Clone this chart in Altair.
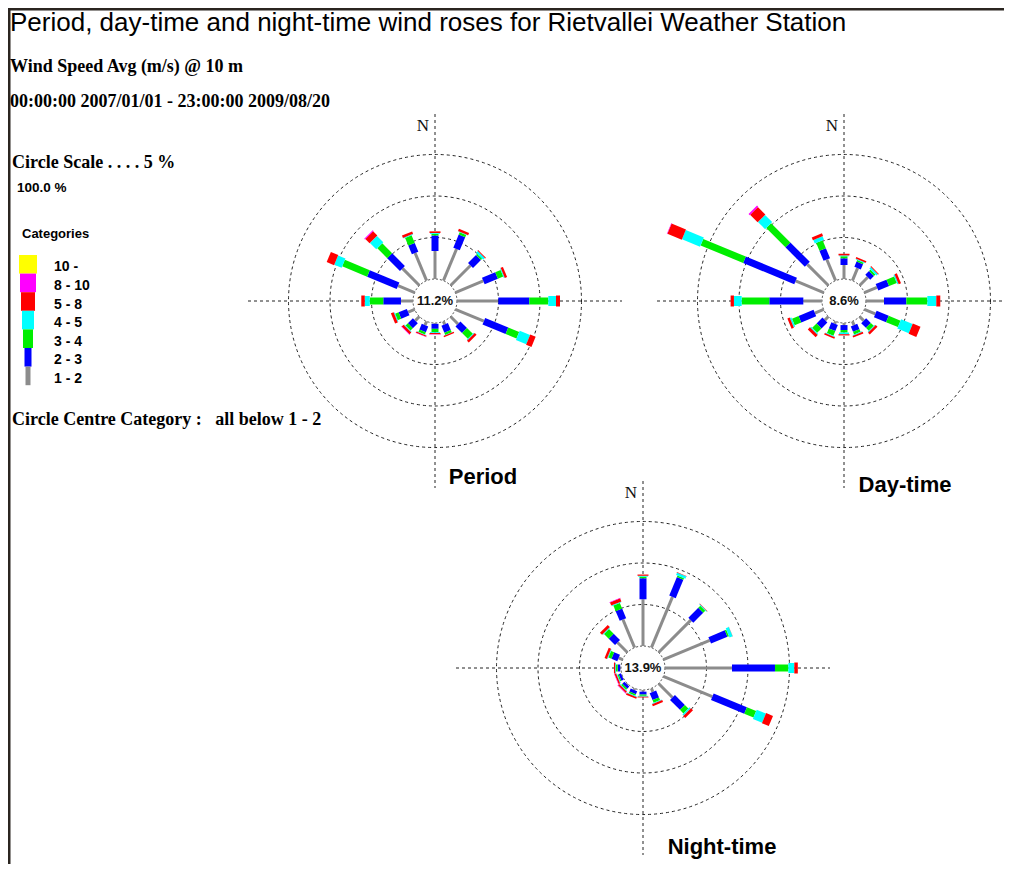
import altair as alt
import pandas as pd

# ---------------- data ----------------
DIRECTIONS = ["N", "NNE", "NE", "ENE", "E", "ESE", "SE", "SSE",
              "S", "SSW", "SW", "WSW", "W", "WNW", "NW", "NNW"]
CATEGORIES = ["1 - 2", "2 - 3", "3 - 4", "4 - 5", "5 - 8", "8 - 10", "10 -"]
ROSES = ["Period", "Day-time", "Night-time"]
CALMS = [11.2, 8.6, 13.9]          # circle centre (calm) percentages

# frequency (%) per direction, one list per speed category
period_1_2 = [3.37, 4.13, 3.40, 3.65, 4.98, 3.72, 1.26, 0.40, 0.10, 0.50, 0.70, 0.85, 1.45, 2.17, 2.90, 3.61]
period_2_3 = [1.87, 1.71, 1.36, 1.73, 3.73, 3.01, 1.12, 0.90, 0.60, 0.75, 0.85, 1.08, 2.13, 3.86, 2.17, 1.14]
period_3_4 = [0.20, 0.30, 0.20, 0.70, 2.29, 1.42, 0.99, 0.30, 0.40, 0.30, 0.40, 0.45, 1.63, 3.25, 1.69, 1.00]
period_4_5 = [0.10, 0.05, 0.30, 0.10, 0.93, 1.35, 0.10, 0.05, 0.10, 0.05, 0.10, 0.10, 0.60, 0.96, 1.08, 0.10]
period_5_8 = [0.20, 0.30, 0.10, 0.30, 0.48, 0.70, 0.30, 0.15, 0.15, 0.15, 0.30, 0.35, 0.42, 0.96, 0.72, 0.30]
period_8_10 = [0.00, 0.00, 0.00, 0.00, 0.00, 0.00, 0.00, 0.00, 0.04, 0.04, 0.05, 0.00, 0.00, 0.00, 0.12, 0.00]
period_10_up = [0.00, 0.00, 0.00, 0.00, 0.00, 0.00, 0.00, 0.00, 0.00, 0.00, 0.00, 0.00, 0.00, 0.00, 0.00, 0.00]

day_1_2 = [1.69, 1.63, 1.40, 1.65, 2.17, 1.43, 0.70, 0.50, 0.25, 0.30, 0.60, 1.15, 2.25, 3.66, 3.60, 2.76]
day_2_3 = [0.80, 0.69, 0.63, 1.41, 2.69, 1.58, 0.80, 0.70, 0.60, 0.80, 1.00, 1.95, 4.10, 6.67, 3.31, 1.31]
day_3_4 = [0.25, 0.20, 0.25, 1.00, 2.53, 1.54, 0.50, 0.35, 0.30, 0.60, 0.75, 0.86, 3.33, 5.55, 3.28, 1.02]
day_4_5 = [0.10, 0.10, 0.25, 0.15, 1.08, 1.50, 0.10, 0.10, 0.20, 0.10, 0.15, 0.20, 0.93, 2.35, 1.22, 0.45]
day_5_8 = [0.20, 0.20, 0.10, 0.30, 0.48, 1.00, 0.30, 0.20, 0.15, 0.20, 0.35, 0.30, 0.40, 1.88, 1.28, 0.36]
day_8_10 = [0.00, 0.00, 0.00, 0.00, 0.00, 0.00, 0.00, 0.00, 0.00, 0.00, 0.00, 0.00, 0.00, 0.05, 0.20, 0.00]
day_10_up = [0.00, 0.00, 0.00, 0.00, 0.00, 0.00, 0.00, 0.00, 0.00, 0.00, 0.00, 0.00, 0.00, 0.00, 0.00, 0.00]

night_1_2 = [5.63, 6.63, 5.50, 6.05, 8.07, 6.39, 2.37, 0.46, 0.20, 0.20, 0.10, 0.05, 0.10, 0.53, 1.69, 3.67]
night_2_3 = [2.53, 2.41, 1.69, 2.14, 5.18, 4.34, 1.69, 0.90, 0.35, 0.40, 0.35, 0.30, 0.30, 0.76, 1.08, 1.27]
night_3_4 = [0.20, 0.20, 0.35, 0.20, 1.61, 1.20, 0.60, 0.35, 0.15, 0.20, 0.20, 0.15, 0.20, 0.40, 0.80, 0.72]
night_4_5 = [0.10, 0.30, 0.10, 0.40, 0.72, 1.20, 0.20, 0.10, 0.10, 0.10, 0.10, 0.10, 0.10, 0.10, 0.10, 0.10]
night_5_8 = [0.15, 0.05, 0.05, 0.02, 0.42, 0.90, 0.35, 0.25, 0.10, 0.20, 0.20, 0.20, 0.15, 0.30, 0.35, 0.40]
night_8_10 = [0.00, 0.00, 0.00, 0.00, 0.00, 0.00, 0.00, 0.00, 0.00, 0.00, 0.05, 0.05, 0.00, 0.00, 0.00, 0.05]
night_10_up = [0.00, 0.00, 0.00, 0.00, 0.00, 0.00, 0.00, 0.00, 0.00, 0.00, 0.00, 0.00, 0.00, 0.00, 0.00, 0.00]

TITLE = "Period, day-time and night-time wind roses for Rietvallei Weather Station"
SUBTITLE_1 = "Wind Speed Avg (m/s) @ 10 m"
SUBTITLE_2 = "00:00:00 2007/01/01 - 23:00:00 2009/08/20"
SCALE_TEXT = "Circle Scale . . . . 5 %"
TOTAL_TEXT = "100.0 %"
LEGEND_TITLE = "Categories"
CENTRE_TEXT = "Circle Centre Category :\u00a0\u00a0\u00a0all below 1 - 2"

# ---------------- styling / layout ----------------
COLORS = ["#8c8c8c", "#0000ff", "#00ee00", "#00ffff", "#ff0000", "#ff00ff", "#ffff00"]
BAR_WIDTHS = [3, 7, 7, 10, 11, 12, 13]
LEGEND_WIDTHS = [5, 7, 10, 12, 14, 16, 18]
CENTERS = {"Period": (435, 301), "Day-time": (844, 301), "Night-time": (643, 668)}
NAME_POS = {"Period": (483, 477), "Day-time": (905, 485), "Night-time": (722, 847)}
CALM_R = 22.0        # px radius of the centre circle
PX_PER_PCT = 8.3     # px per percent
CIRCLE_STEP = 5      # percent per ring
N_RINGS = 3
CROSS_HALF = 187
W, H = 996, 856

xs = alt.Scale(domain=[8, 8 + W], nice=False, zero=False)
ys = alt.Scale(domain=[8, 8 + H], nice=False, zero=False, reverse=True)

series = {
    "Period": [period_1_2, period_2_3, period_3_4, period_4_5, period_5_8, period_8_10, period_10_up],
    "Day-time": [day_1_2, day_2_3, day_3_4, day_4_5, day_5_8, day_8_10, day_10_up],
    "Night-time": [night_1_2, night_2_3, night_3_4, night_4_5, night_5_8, night_8_10, night_10_up],
}

rows = []
for rose in ROSES:
    cx, cy = CENTERS[rose]
    for ci, cat in enumerate(CATEGORIES):
        for di, d in enumerate(DIRECTIONS):
            rows.append(dict(rose=rose, dir=d, dir_idx=di, cat=cat, cat_idx=ci,
                             value=series[rose][ci][di], cx=cx, cy=cy, sw=BAR_WIDTHS[ci]))
seg_df = pd.DataFrame(rows)

bars = (
    alt.Chart(seg_df)
    .transform_window(cum="sum(value)", groupby=["rose", "dir_idx"],
                      sort=[alt.SortField("cat_idx")], frame=[None, 0])
    .transform_filter("datum.value > 0")
    .transform_calculate(
        r0=f"{CALM_R} + (datum.cum - datum.value) * {PX_PER_PCT}",
        r1=f"{CALM_R} + datum.cum * {PX_PER_PCT}",
        a="datum.dir_idx * 22.5 * PI / 180",
    )
    .transform_calculate(
        x0="datum.cx + datum.r0 * sin(datum.a)",
        y0="datum.cy - datum.r0 * cos(datum.a)",
        x1="datum.cx + datum.r1 * sin(datum.a)",
        y1="datum.cy - datum.r1 * cos(datum.a)",
    )
    .mark_rule(strokeCap="butt")
    .encode(
        x=alt.X("x0:Q", scale=xs, axis=None),
        y=alt.Y("y0:Q", scale=ys, axis=None),
        x2="x1:Q",
        y2="y1:Q",
        color=alt.Color("cat:N", scale=alt.Scale(domain=CATEGORIES, range=COLORS), legend=None),
        strokeWidth=alt.StrokeWidth("sw:Q", scale=None, legend=None),
    )
)

# crosshair lines
cross_rows = []
for rose in ROSES:
    cx, cy = CENTERS[rose]
    cross_rows.append(dict(rose=rose, xa=cx - CROSS_HALF, xb=cx + CROSS_HALF, ya=cy, yb=cy))
    cross_rows.append(dict(rose=rose, xa=cx, xb=cx, ya=cy - CROSS_HALF, yb=cy + CROSS_HALF))
cross = alt.Chart(pd.DataFrame(cross_rows)).mark_rule(
    color="#222222", strokeWidth=1, strokeDash=[3, 3]
).encode(
    x=alt.X("xa:Q", scale=xs, axis=None), y=alt.Y("ya:Q", scale=ys, axis=None),
    x2="xb:Q", y2="yb:Q",
)

# dashed rings (5 % each)
ring_rows = []
for rose in ROSES:
    cx, cy = CENTERS[rose]
    for k in range(1, N_RINGS + 1):
        ring_rows.append(dict(rose=rose, pct=k * CIRCLE_STEP, cx=cx, cy=cy))
rings = (
    alt.Chart(pd.DataFrame(ring_rows))
    .transform_calculate(size=f"pow(2 * ({CALM_R} + datum.pct * {PX_PER_PCT}), 2)")
    .mark_point(shape="circle", filled=False, stroke="#222222", strokeWidth=1,
                strokeDash=[3, 3], opacity=1)
    .encode(x=alt.X("cx:Q", scale=xs, axis=None), y=alt.Y("cy:Q", scale=ys, axis=None),
            size=alt.Size("size:Q", scale=None, legend=None))
)

calm_df = pd.DataFrame([dict(rose=r, cx=CENTERS[r][0], cy=CENTERS[r][1],
                             label=f"{c:.1f}%") for r, c in zip(ROSES, CALMS)])
calm_circle = (
    alt.Chart(calm_df)
    .transform_calculate(size=f"pow(2 * {CALM_R}, 2)")
    .mark_point(shape="circle", filled=True, fill="white", fillOpacity=1,
                stroke="#444444", strokeWidth=1, strokeDash=[2, 2], strokeOpacity=1)
    .encode(x=alt.X("cx:Q", scale=xs, axis=None), y=alt.Y("cy:Q", scale=ys, axis=None),
            size=alt.Size("size:Q", scale=None, legend=None))
)
calm_text = alt.Chart(calm_df).mark_text(
    font="Liberation Sans", fontSize=13, fontWeight="bold", color="#111111", baseline="middle"
).encode(x=alt.X("cx:Q", scale=xs, axis=None), y=alt.Y("cy:Q", scale=ys, axis=None), text="label:N")

north_df = pd.DataFrame([dict(x=CENTERS[r][0] - 12, y=CENTERS[r][1] - 170, t="N") for r in ROSES])
north = alt.Chart(north_df).mark_text(
    font="Liberation Serif", fontSize=17, color="#111111", baseline="alphabetic"
).encode(x=alt.X("x:Q", scale=xs, axis=None), y=alt.Y("y:Q", scale=ys, axis=None), text="t:N")

names_df = pd.DataFrame([dict(x=NAME_POS[r][0], y=NAME_POS[r][1], t=r) for r in ROSES])
names = alt.Chart(names_df).mark_text(
    font="Liberation Sans", fontSize=22, fontWeight="bold", color="#000000", baseline="middle"
).encode(x=alt.X("x:Q", scale=xs, axis=None), y=alt.Y("y:Q", scale=ys, axis=None), text="t:N")


def text_layer(text, x, y, **kw):
    df = pd.DataFrame([dict(x=x, y=y, t=text)])
    return alt.Chart(df).mark_text(align="left", baseline="alphabetic", color="#000000", **kw).encode(
        x=alt.X("x:Q", scale=xs, axis=None), y=alt.Y("y:Q", scale=ys, axis=None), text="t:N")


texts = [
    text_layer(TITLE, 10, 31, font="Liberation Sans", fontSize=26),
    text_layer(SUBTITLE_1, 10, 72, font="Liberation Serif", fontSize=18, fontWeight="bold"),
    text_layer(SUBTITLE_2, 10, 107, font="Liberation Serif", fontSize=18, fontWeight="bold"),
    text_layer(SCALE_TEXT, 12, 168, font="Liberation Serif", fontSize=18, fontWeight="bold"),
    text_layer(TOTAL_TEXT, 17, 192, font="Liberation Sans", fontSize=13.5, fontWeight="bold"),
    text_layer(LEGEND_TITLE, 22, 238, font="Liberation Sans", fontSize=13, fontWeight="bold"),
    text_layer(CENTRE_TEXT, 12, 425, font="Liberation Serif", fontSize=18, fontWeight="bold"),
]

# legend swatches (top: highest category)
LEG_TOP, LEG_STEP, LEG_CX, LEG_LABEL_X = 255, 18.6, 28, 54
leg_rows = []
for i, ci in enumerate(reversed(range(len(CATEGORIES)))):
    w = LEGEND_WIDTHS[ci]
    leg_rows.append(dict(cat=CATEGORIES[ci], xa=LEG_CX - w / 2, xb=LEG_CX + w / 2,
                         ya=LEG_TOP + i * LEG_STEP, yb=LEG_TOP + (i + 1) * LEG_STEP,
                         ym=LEG_TOP + (i + 0.5) * LEG_STEP + 3, xl=LEG_LABEL_X))
leg_df = pd.DataFrame(leg_rows)
leg_rect = alt.Chart(leg_df).mark_rect().encode(
    x=alt.X("xa:Q", scale=xs, axis=None), x2="xb:Q",
    y=alt.Y("ya:Q", scale=ys, axis=None), y2="yb:Q",
    color=alt.Color("cat:N", scale=alt.Scale(domain=CATEGORIES, range=COLORS), legend=None),
)
leg_text = alt.Chart(leg_df).mark_text(
    align="left", baseline="middle", font="Liberation Sans", fontSize=14, fontWeight="bold", color="#000000"
).encode(x=alt.X("xl:Q", scale=xs, axis=None), y=alt.Y("ym:Q", scale=ys, axis=None), text="cat:N")

# frame lines (top and left)
frame_df = pd.DataFrame([dict(xa=8, xb=8 + W, ya=9, yb=9), dict(xa=9, xb=9, ya=8, yb=8 + H)])
frame = alt.Chart(frame_df).mark_rule(color="#2b2520", strokeWidth=3).encode(
    x=alt.X("xa:Q", scale=xs, axis=None), x2="xb:Q",
    y=alt.Y("ya:Q", scale=ys, axis=None), y2="yb:Q",
)

chart = alt.layer(
    frame, cross, rings, calm_circle, bars, calm_text, north, names, leg_rect, leg_text, *texts
).properties(
    width=W, height=H, padding=0, autosize=alt.AutoSizeParams(type="none"),
    background="white",
).configure_view(stroke=None)

chart.save("out.html", embed_options={"renderer": "svg", "actions": False})
